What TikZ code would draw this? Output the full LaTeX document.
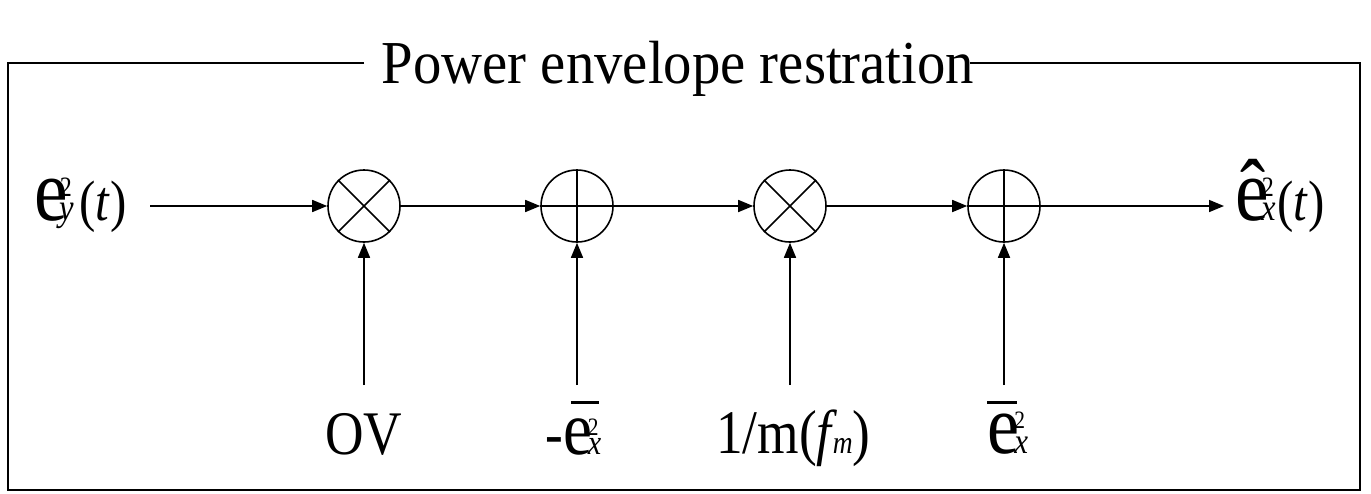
\documentclass[tikz,border=0pt]{standalone}
\usepackage{fontspec}
\setmainfont[FakeStretch=0.86]{Liberation Serif}
\newfontfamily\titlefont[FakeStretch=0.93]{Liberation Serif}
\usetikzlibrary{arrows.meta}
\newcommand\fsz[1]{\fontsize{#1}{#1}\selectfont}
\begin{document}
\begin{tikzpicture}[x=1pt,y=-1pt,
  line/.style={line width=1.6pt},
  arr/.style={line width=1.6pt,-{Triangle[length=15pt,width=12pt]}},
  op/.style={circle,draw,line width=1.6pt,minimum size=72pt,inner sep=0pt},
  lbl/.style={inner sep=0pt,anchor=base},
  lblw/.style={inner sep=0pt,anchor=base west}]
\useasboundingbox (0,0) rectangle (1371,493);
% frame
\draw[line] (364,63) -- (8,63) -- (8,490) -- (1360,490) -- (1360,63) -- (970,63);
\node[lbl] (title) at (678,83) {\titlefont\fsz{61}Power envelope restration};
% operators
\node[op] (m1) at (364,206) {};
\node[op] (a1) at (577,206) {};
\node[op] (m2) at (790,206) {};
\node[op] (a2) at (1004,206) {};
\draw[line] (m1.north east) -- (m1.south west) (m1.north west) -- (m1.south east);
\draw[line] (m2.north east) -- (m2.south west) (m2.north west) -- (m2.south east);
\draw[line] (a1.north) -- (a1.south) (a1.west) -- (a1.east);
\draw[line] (a2.north) -- (a2.south) (a2.west) -- (a2.east);
% labels
\node[lblw] (inlabel) at (34,220) {\fsz{88}e\kern-8pt\rlap{\raisebox{24pt}{\fsz{28}2}}{\fsz{38}\itshape y}\kern5pt\fsz{57}(\textit{t})};
\node[lblw] (outlabel) at (1235,220) {\fsz{88}ê\kern-7pt\rlap{\raisebox{24pt}{\fsz{28}2}}{\fsz{38}\itshape x}\kern1pt\fsz{57}(\textit{t})};
\node[lbl] (ov) at (364,454) {\fsz{62}OV};
\node[lblw] (mex) at (545,454) {{\fsz{62}-}\kern1pt\rlap{\kern7pt\raisebox{50.5pt}{\rule{28pt}{3pt}}}{\fsz{76}e}\kern-5pt\rlap{\raisebox{19pt}{\fsz{25}2}}{\fsz{35}\itshape x}};
\node[lblw] (minv) at (716,453) {\fsz{62}1/m(\textit{f}\kern-5pt{\fsz{32}\itshape m})};
\node[lblw] (ex) at (987,453) {\rlap{\raisebox{49.5pt}{\rule{30pt}{3pt}}}{\fsz{84}e}\kern-5pt\rlap{\raisebox{25pt}{\fsz{25}2}}{\fsz{36}\itshape x}};
% connectors
\coordinate (in) at (150,206);
\coordinate (out) at (1224,206);
\coordinate (b1) at (364,385);
\coordinate (b2) at (577,385);
\coordinate (b3) at (790,385);
\coordinate (b4) at (1004,385);
\draw[arr] (in) -- (m1);
\draw[arr] (m1) -- (a1);
\draw[arr] (a1) -- (m2);
\draw[arr] (m2) -- (a2);
\draw[arr] (a2) -- (out);
\draw[arr] (b1) -- (m1);
\draw[arr] (b2) -- (a1);
\draw[arr] (b3) -- (m2);
\draw[arr] (b4) -- (a2);
\end{tikzpicture}
\end{document}
